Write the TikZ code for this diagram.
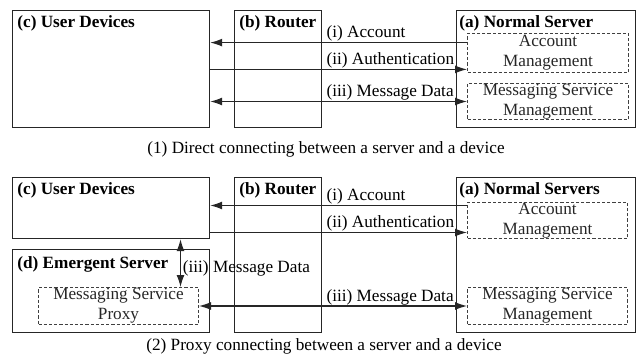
\documentclass[tikz,border=0pt]{standalone}
\usepackage{fontspec}
\setmainfont{Liberation Serif}
\usetikzlibrary{arrows.meta, calc}

\begin{document}
\begin{tikzpicture}[x=0.5pt, y=-0.5pt, font=\fontsize{8.6}{10}\selectfont,
		box/.style={draw=black!85, line width=0.6pt, anchor=north west, inner sep=0pt},
		part/.style={draw=black!75, dash pattern=on 1.6pt off 1pt, line width=0.5pt, text=black!85, align=center, anchor=north west, inner sep=0pt},
		title/.style={anchor=north west, inner sep=2.5pt, font=\fontsize{8.6}{10}\selectfont\bfseries},
		arr/.style={draw=black!85, line width=0.6pt, -{Latex[length=6pt,width=4pt]}},
		darr/.style={arr, {Latex[length=6pt,width=4pt]}-{Latex[length=6pt,width=4pt]}},
		lbl/.style={anchor=base west, inner sep=0pt, xshift=2pt, yshift=2.3pt}]
	\useasboundingbox (0,0) rectangle (642,363);

	% (1) direct connection
	\node[box, minimum width=98.5pt, minimum height=58.5pt] (dev1) at (12,10) {};
	\node[box, minimum width=43.5pt, minimum height=58.5pt] (rt1) at (234,10) {};
	\node[box, minimum width=89.5pt, minimum height=58.5pt] (srv1) at (456,10) {};
	\node[title] at (dev1.north west) {(c) User Devices};
	\node[title] at (rt1.north west) {(b) Router};
	\node[title, xshift=-1pt] at (srv1.north west) {(a) Normal Server};
	\node[part, minimum width=80.5pt, minimum height=19.5pt] (acc1) at (467,33) {Account\\Management};
	\node[part, minimum width=80.5pt, minimum height=18pt] (msg1) at (467,83) {Messaging Service\\Management};

	\coordinate (a1) at ([yshift=5.2pt]acc1.west);
	\coordinate (b1) at ([yshift=-8.2pt]acc1.west);
	\draw[arr] (a1) -- (a1 -| dev1.east);
	\draw[arr] (dev1.east |- b1) -- (b1);
	\draw[darr] (dev1.east |- msg1.west) -- (msg1.west);
	\node[lbl] at (a1 -| rt1.east) {(i) Account};
	\node[lbl] at (b1 -| rt1.east) {(ii) Authentication};
	\node[lbl] at (msg1.west -| rt1.east) {(iii) Message Data};

	\node[anchor=base, inner sep=0pt] (cap1) at (326,154) {(1) Direct connecting between a server and a device};

	% (2) connection through the proxy
	\node[box, minimum width=98.5pt, minimum height=30.5pt] (dev2) at (12,177) {};
	\node[box, minimum width=98.5pt, minimum height=41.5pt] (emg2) at (12,249) {};
	\node[box, minimum width=43.5pt, minimum height=77.5pt] (rt2) at (234,177) {};
	\node[box, minimum width=89.5pt, minimum height=77.5pt] (srv2) at (456,177) {};
	\node[title] at (dev2.north west) {(c) User Devices};
	\node[title, yshift=-1pt] at (emg2.north west) {(d) Emergent Server};
	\node[title] at (rt2.north west) {(b) Router};
	\node[title, xshift=-1pt] at (srv2.north west) {(a) Normal Servers};
	\node[part, minimum width=80pt, minimum height=18.5pt] (prx2) at (38,287) {Messaging Service\\Proxy};
	\node[part, minimum width=80pt, minimum height=18pt] (acc2) at (467,202) {Account\\Management};
	\node[part, minimum width=80pt, minimum height=18.5pt] (msg2) at (467,287) {Messaging Service\\Management};

	\coordinate (a2) at ([yshift=7.5pt]acc2.west);
	\coordinate (b2) at ([yshift=-6pt]acc2.west);
	\coordinate (d2) at ([xshift=31pt]prx2.north);
	\draw[arr] (a2) -- (a2 -| dev2.east);
	\draw[arr] (dev2.east |- b2) -- (b2);
	\draw[darr] (prx2.east) -- (msg2.west);
	\draw[darr] (d2) -- (d2 |- dev2.south);
	\node[lbl] at (a2 -| rt2.east) {(i) Account};
	\node[lbl] at (b2 -| rt2.east) {(ii) Authentication};
	\node[lbl] at (prx2.east -| rt2.east) {(iii) Message Data};
	\node[anchor=west, inner sep=1pt, yshift=-2.5pt] at ($(d2)!0.5!(d2 |- dev2.south)$) {(iii) Message Data};

	\node[anchor=base, inner sep=0pt] (cap2) at (324,350) {(2) Proxy connecting between a server and a device};
\end{tikzpicture}
\end{document}
